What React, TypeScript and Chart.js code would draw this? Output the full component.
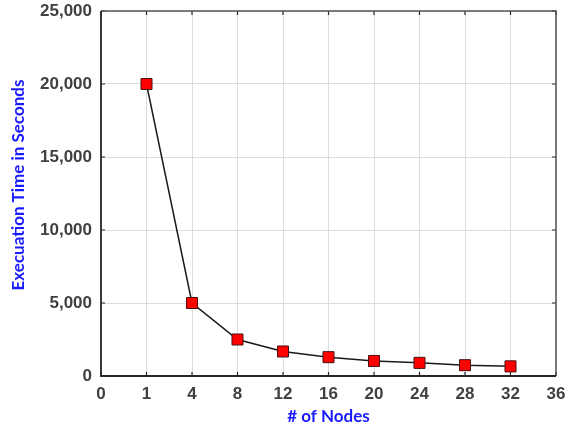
import React, { useEffect, useRef } from "react";
import { Chart, registerables } from "chart.js";

Chart.register(...registerables);

// Category labels along the node axis (0 and 36 are padding positions without data)
const nodeLabels = ["0", "1", "4", "8", "12", "16", "20", "24", "28", "32", "36"];
// Execution time in seconds per node count; null where no run exists
const execSeconds = [null, 20000, 5000, 2500, 1680, 1290, 1030, 900, 740, 660, null];

const yMin = 0;
const yMax = 25000;
const yStep = 5000;

const xTitle = "# of Nodes";
const yTitle = "Execuation Time in Seconds";

const tickFont = { family: "'Liberation Sans', Arial, sans-serif", size: 17, weight: "bold" as const };

const frameAndTitles = {
  id: "frameAndTitles",
  afterDatasetsDraw(chart: any) {
    const { ctx, chartArea, scales } = chart;
    const { left, right, top, bottom } = chartArea;
    ctx.save();
    // inward tick marks on all four sides
    ctx.strokeStyle = "#262626";
    ctx.lineWidth = 1.2;
    const tl = 4;
    scales.x.ticks.forEach((_t: any, i: number) => {
      const x = scales.x.getPixelForTick(i);
      ctx.beginPath();
      ctx.moveTo(x, bottom);
      ctx.lineTo(x, bottom - tl);
      ctx.moveTo(x, top);
      ctx.lineTo(x, top + tl);
      ctx.stroke();
    });
    scales.y.ticks.forEach((_t: any, i: number) => {
      const y = scales.y.getPixelForTick(i);
      ctx.beginPath();
      ctx.moveTo(left, y);
      ctx.lineTo(left + tl, y);
      ctx.moveTo(right, y);
      ctx.lineTo(right - tl, y);
      ctx.stroke();
    });
    // top and right frame
    ctx.strokeStyle = "#555555";
    ctx.lineWidth = 1.5;
    ctx.beginPath();
    ctx.moveTo(left, top);
    ctx.lineTo(right, top);
    ctx.lineTo(right, bottom);
    ctx.stroke();
    // left and bottom axes
    ctx.strokeStyle = "#262626";
    ctx.lineWidth = 1.8;
    ctx.beginPath();
    ctx.moveTo(left, top);
    ctx.lineTo(left, bottom);
    ctx.lineTo(right, bottom);
    ctx.stroke();
    ctx.restore();
  },
  afterDraw(chart: any) {
    const { ctx, chartArea } = chart;
    ctx.save();
    ctx.fillStyle = "#1a1aff";
    ctx.font = "bold 17px Lato";
    ctx.textAlign = "center";
    ctx.textBaseline = "middle";
    ctx.fillText(xTitle, (chartArea.left + chartArea.right) / 2, 417);
    ctx.translate(19, 185);
    ctx.rotate(-Math.PI / 2);
    ctx.fillText(yTitle, 0, 0);
    ctx.restore();
  },
};

export default function App() {
  const canvasRef = useRef<HTMLCanvasElement | null>(null);

  useEffect(() => {
    const canvas = canvasRef.current;
    if (!canvas) return;
    const chart = new Chart(canvas, {
      type: "line",
      data: {
        labels: nodeLabels,
        datasets: [
          {
            data: execSeconds,
            borderColor: "#1a1a1a",
            borderWidth: 1.5,
            pointStyle: "rect",
            pointRadius: 7.8,
            pointHoverRadius: 7.8,
            pointBackgroundColor: "#ff0000",
            pointBorderColor: "#4a1010",
            pointBorderWidth: 1,
            spanGaps: false,
            tension: 0,
          },
        ],
      },
      options: {
        responsive: false,
        animation: false,
        events: [],
        layout: { padding: { top: 11, right: 15, left: 0, bottom: 0 } },
        plugins: {
          legend: { display: false },
          tooltip: { enabled: false },
        },
        scales: {
          x: {
            type: "category",
            offset: false,
            grid: { color: "#dcdcdc", lineWidth: 1, drawTicks: false },
            border: { display: false },
            ticks: {
              color: "#404040",
              font: tickFont,
              padding: 8,
              maxRotation: 0,
              autoSkip: false,
            },
            afterFit(scale: any) {
              scale.height = 55;
              scale.paddingLeft = 0;
              scale.paddingRight = 0;
            },
          },
          y: {
            min: yMin,
            max: yMax,
            grid: { color: "#dcdcdc", lineWidth: 1, drawTicks: false },
            border: { display: false },
            ticks: {
              stepSize: yStep,
              color: "#404040",
              font: tickFont,
              padding: 9,
              callback: (v: any) => Number(v).toLocaleString("en-US"),
            },
            afterFit(scale: any) {
              scale.width = 101;
              scale.paddingTop = 0;
              scale.paddingBottom = 0;
            },
          },
        },
      },
      plugins: [frameAndTitles],
    });
    return () => chart.destroy();
  }, []);

  return (
    <div style={{ position: "fixed", left: 0, top: 0, width: 571, height: 431, background: "#ffffff" }}>
      <canvas ref={canvasRef} width={571} height={431} />
    </div>
  );
}
